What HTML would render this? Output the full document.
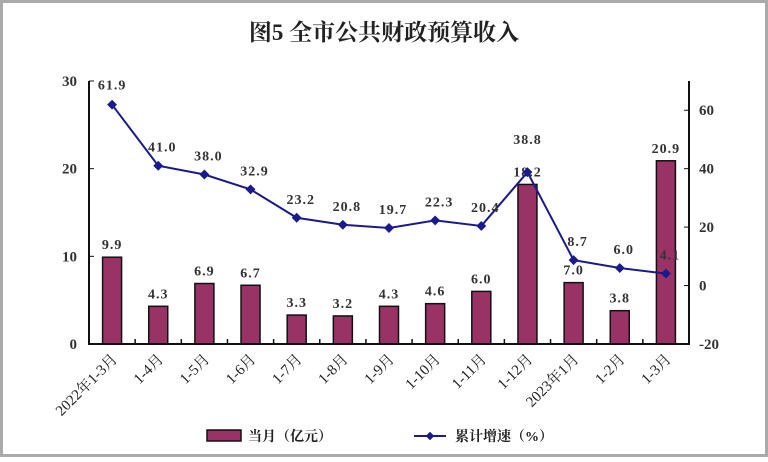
<!DOCTYPE html>
<html><head><meta charset="utf-8"><style>
body{margin:0;background:#fff}
svg text{font-family:"Liberation Serif","Noto Serif CJK SC",serif}
</style></head><body>
<svg width="768" height="457" viewBox="0 0 768 457" xmlns="http://www.w3.org/2000/svg">
<rect x="1.5" y="1.5" width="765" height="454" fill="#fff" stroke="#aaa" stroke-width="3"/>
<text x="384" y="40" text-anchor="middle" font-size="23" font-weight="bold" font-family="Liberation Sans,Noto Sans CJK SC,sans-serif" fill="#222">图5  全市公共财政预算收入</text>
<g id="chart"></g>
</svg>
<script>
const bars=[9.9,4.3,6.9,6.7,3.3,3.2,4.3,4.6,6.0,18.2,7.0,3.8,20.9];
const line=[61.9,41.0,38.0,32.9,23.2,20.8,19.7,22.3,20.4,38.8,8.7,6.0,4.1];
const cats=["2022年1-3月","1-4月","1-5月","1-6月","1-7月","1-8月","1-9月","1-10月","1-11月","1-12月","2023年1月","1-2月","1-3月"];
const L=89,R=689,T=81,B=344,w=(R-L)/13;
const yl=v=>B-v*(B-T)/30, yr=v=>B-(v+20)*(B-T)/90;
let s='';
for(let i=0;i<13;i++){const cx=L+w*(i+0.5),y=yl(bars[i]);
s+=`<rect x="${cx-9.5}" y="${y}" width="19" height="${B-y}" fill="#993366" stroke="#111" stroke-width="1.5"/>`;
s+=`<text x="${cx}" y="${y-8}" text-anchor="middle" font-size="14" font-weight="bold" letter-spacing="1" fill="#333">${bars[i].toFixed(1)}</text>`;}
s+=`<path d="M${L} ${T}V${B}H${R}V${T}" fill="none" stroke="#111" stroke-width="2"/>`;
for(let i=0;i<=13;i++){const x=L+w*i;s+=`<line x1="${x}" y1="${B}" x2="${x}" y2="${B-5}" stroke="#111" stroke-width="1.5"/>`;}
[0,10,20,30].forEach(v=>{s+=`<line x1="${L}" y1="${yl(v)}" x2="${L+5}" y2="${yl(v)}" stroke="#111"/><text x="${L-12}" y="${yl(v)+5}" text-anchor="end" font-size="15" font-weight="bold" font-family="Liberation Sans,sans-serif" fill="#333">${v}</text>`});
[-20,0,20,40,60].forEach(v=>{s+=`<line x1="${R-5}" y1="${yr(v)}" x2="${R}" y2="${yr(v)}" stroke="#111"/><text x="${R+10}" y="${yr(v)+5}" font-size="15" font-weight="bold" font-family="Liberation Sans,sans-serif" fill="#333">${v}</text>`});
let p='';for(let i=0;i<13;i++){p+=(i?'L':'M')+(L+w*(i+0.5))+' '+yr(line[i]);}
s+=`<path d="${p}" fill="none" stroke="#1a1a8c" stroke-width="2"/>`;
for(let i=0;i<13;i++){const cx=L+w*(i+0.5),y=yr(line[i]);
s+=`<rect x="${cx-3.5}" y="${y-3.5}" width="7" height="7" transform="rotate(45 ${cx} ${y})" fill="#1a1a8c"/>`;
s+=`<text x="${cx+(i==0?0:i==9?0:4)}" y="${i==0?y-15:i==9?y-28:y-14}" text-anchor="middle" font-size="14" font-weight="bold" letter-spacing="1" fill="#333">${line[i].toFixed(1)}</text>`;}
for(let i=0;i<13;i++){const cx=L+w*(i+0.5)+6;
s+=`<text x="${cx}" y="360" text-anchor="end" transform="rotate(-45 ${cx} 360)" font-size="15" font-family="Liberation Sans,Noto Sans CJK SC,sans-serif" fill="#222">${cats[i]}</text>`;}
s+=`<rect x="207" y="430" width="34" height="11" fill="#993366" stroke="#111" stroke-width="1.5"/><text x="248" y="441" font-size="14" font-weight="bold" font-family="Noto Sans CJK SC,sans-serif" fill="#222">当月（亿元）</text>`;
s+=`<line x1="414" y1="436" x2="446" y2="436" stroke="#1a1a8c" stroke-width="2"/><rect x="427" y="433" width="6" height="6" transform="rotate(45 430 436)" fill="#1a1a8c"/><text x="455" y="441" font-size="14" font-weight="bold" font-family="Noto Sans CJK SC,sans-serif" fill="#222">累计增速（%）</text>`;
document.getElementById('chart').innerHTML=s;
</script>
</body></html>
